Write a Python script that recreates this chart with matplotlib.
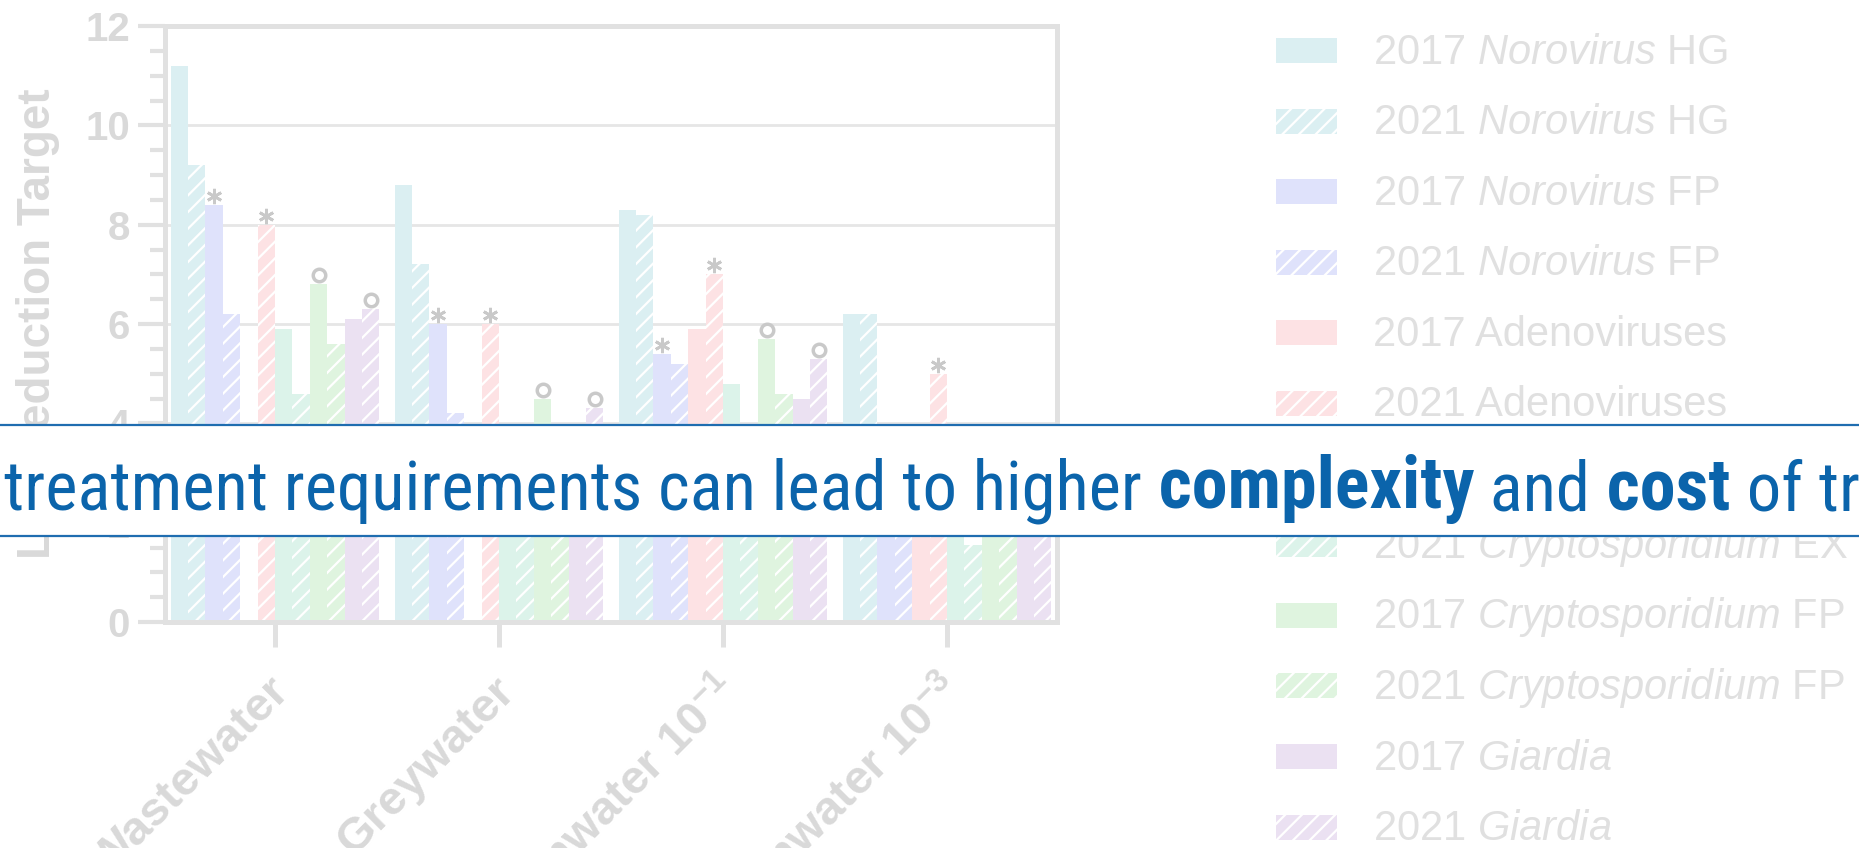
import matplotlib
matplotlib.use("Agg")
import numpy as np
import matplotlib.pyplot as plt
from matplotlib import font_manager as fm
from matplotlib.patches import Rectangle
from matplotlib.transforms import ScaledTranslation

# ---- data (values hidden under the banner are estimates)
categories = ["Wastewater", "Greywater",
              r"Stormwater 10$^{\mathbf{-1}}$", r"Stormwater 10$^{\mathbf{-3}}$"]

hg_2017 = [11.2, 8.8, 8.3, 6.2]
hg_2021 = [9.2, 7.2, 8.2, 6.2]
fp_2017 = [8.4, 6.0, 5.4, 3.5]
fp_2021 = [6.2, 4.2, 5.2, 3.0]
adeno_2017 = [np.nan, np.nan, 5.9, 3.8]
adeno_2021 = [8.0, 6.0, 7.0, 5.0]
cex_2017 = [5.9, 3.2, 4.8, 2.8]
cex_2021 = [4.6, 2.9, 3.4, 1.55]
cfp_2017 = [6.8, 4.5, 5.7, 3.5]
cfp_2021 = [5.6, 3.4, 4.6, 2.6]
giardia_2017 = [6.1, 3.8, 4.5, 2.6]
giardia_2021 = [6.3, 4.3, 5.3, 3.3]

series = [hg_2017, hg_2021, fp_2017, fp_2021, adeno_2017, adeno_2021,
          cex_2017, cex_2021, cfp_2017, cfp_2021, giardia_2017, giardia_2021]
series_labels = [
    r"2017 $\mathit{Norovirus}$ HG", r"2021 $\mathit{Norovirus}$ HG",
    r"2017 $\mathit{Norovirus}$ FP", r"2021 $\mathit{Norovirus}$ FP",
    "2017 Adenoviruses", "2021 Adenoviruses",
    r"2017 $\mathit{Cryptosporidium}$ EX", r"2021 $\mathit{Cryptosporidium}$ EX",
    r"2017 $\mathit{Cryptosporidium}$ FP", r"2021 $\mathit{Cryptosporidium}$ FP",
    r"2017 $\mathit{Giardia}$", r"2021 $\mathit{Giardia}$",
]
star_series = [2, 5]      # marked with *
circle_series = [8, 11]   # marked with o

pair_colors = ["#dbeff2", "#dfe2fb", "#fde2e4", "#dcf3ea", "#dff4df", "#ebe1f2"]

banner_parts = [("treatment requirements can lead to higher", "normal"),
                (" complexity", "bold"), (" and", "normal"),
                (" cost", "bold"), (" of treatment", "normal")]

# ---- style
W, H = 1859, 848
tick_grey = "#d9d9d9"
spine_grey = "#e1e1e1"
mark_grey = "#c9c9c9"
blue = "#0b64ab"

plt.rcParams["font.family"] = ["Liberation Sans", "DejaVu Sans"]
plt.rcParams["mathtext.fontset"] = "custom"
plt.rcParams["mathtext.it"] = "Liberation Sans:italic"
plt.rcParams["mathtext.rm"] = "Liberation Sans"
plt.rcParams["mathtext.bf"] = "Liberation Sans:bold"
plt.rcParams["hatch.linewidth"] = 1.6
plt.rcParams["hatch.color"] = "white"


def pick_narrow():
    prefs = ["Liberation Sans Narrow", "Roboto Condensed", "Noto Sans",
             "Open Sans", "DejaVu Sans", "Arimo"]
    found = {}
    for f in fm.fontManager.ttflist:
        narrow = f.stretch not in ("normal", 500) or "Narrow" in f.name or "Condensed" in f.name
        if not narrow or f.style != "normal":
            continue
        w = f.weight if isinstance(f.weight, int) else fm.weight_dict.get(f.weight, 400)
        slot = "reg" if w <= 500 else ("bold" if w >= 600 else None)
        if slot:
            found.setdefault(f.name, {}).setdefault(slot, f.fname)
    for p in prefs + list(found):
        if p in found and "reg" in found[p] and "bold" in found[p]:
            return (fm.FontProperties(fname=found[p]["reg"]),
                    fm.FontProperties(fname=found[p]["bold"]))
    return (fm.FontProperties(family="Liberation Sans"),
            fm.FontProperties(family="Liberation Sans", weight="bold"))


fig = plt.figure(figsize=(W / 100, H / 100), dpi=100)
ax = fig.add_axes([165 / W, 1 - 622 / H, (1057 - 165) / W, (622 - 26) / H])

x = np.arange(len(categories))
bw = 0.0777
hatches = ["", "//"]
containers = []
for i, vals in enumerate(series):
    c = ax.bar(x + (i - 5.5) * bw, vals, bw, color=pair_colors[i // 2],
               hatch=hatches[i % 2], edgecolor="white", linewidth=0, zorder=2)
    containers.append(c)

up = ScaledTranslation(0, 9 / 100, fig.dpi_scale_trans)
for i in star_series:
    ax.plot(x + (i - 5.5) * bw, series[i], ls="none", marker=(6, 2, 0), ms=11,
            mew=2, color=mark_grey, transform=ax.transData + up, zorder=3, clip_on=False)
for i in circle_series:
    ax.plot(x + (i - 5.5) * bw, series[i], ls="none", marker="o", ms=9,
            mew=2.5, mfc="white", mec=mark_grey, transform=ax.transData + up,
            zorder=3, clip_on=False)

ax.set_xlim(-0.491, 3.491)
ax.set_ylim(0, 12)
ax.set_yticks(np.arange(0, 13, 2))
ax.set_yticks(np.arange(0, 12.01, 0.5), minor=True)
ax.yaxis.grid(True, color="#e6e6e6", lw=2)
ax.set_axisbelow(True)
for s in ax.spines.values():
    s.set_color(spine_grey)
    s.set_linewidth(3.6)

ax.tick_params(axis="y", which="major", length=19.4, width=3, color=spine_grey,
               pad=5.8, labelsize=29, labelcolor=tick_grey)
ax.tick_params(axis="y", which="minor", length=10.8, width=3, color=spine_grey)
for lab in ax.get_yticklabels():
    lab.set_fontweight("bold")

ax.set_xticks(x)
ax.set_xticklabels(categories, rotation=45, ha="right", va="top",
                   rotation_mode="anchor", fontsize=34, fontweight="bold", color=tick_grey)
ax.tick_params(axis="x", length=18, width=3.6, color=spine_grey, pad=16)
left = ScaledTranslation(-7 / 100, 0, fig.dpi_scale_trans)
for lab in ax.get_xticklabels():
    lab.set_transform(lab.get_transform() + left)

ax.text(-0.142, 0.5, "Log Reduction Target", transform=ax.transAxes, rotation=90,
        ha="center", va="center", fontsize=33, fontweight="bold", color=tick_grey)

# legend, one row per series
row0, pitch = 50.5, 70.6
for k, (lab, c) in enumerate(zip(series_labels, containers)):
    yc = row0 + k * pitch
    fig.add_artist(Rectangle((1276 / W, 1 - (yc + 12.5) / H), 61 / W, 25 / H,
                             transform=fig.transFigure, facecolor=pair_colors[k // 2],
                             hatch=hatches[k % 2], edgecolor="white", lw=0, zorder=1))
    fig.text(1373 / W, 1 - (yc + 13) / H, lab, fontsize=30, color="#e0e0e0",
             va="baseline", ha="left")

# banner across the middle
bax = fig.add_axes([0, 1 - 536 / H, 1, (536 - 425) / H], zorder=10)
bax.set_xlim(0, 1)
bax.set_ylim(0, 1)
bax.axis("off")
bax.add_patch(Rectangle((0, 0), 1, 1, transform=bax.transAxes, facecolor="white",
                        edgecolor="none"))
bax.axhline(0, color="#1f6db0", lw=1.6, clip_on=False)
bax.axhline(1, color="#1f6db0", lw=1.6, clip_on=False)

fp_reg, fp_bold = pick_narrow()
base_y = (536 - 510) / (536 - 425)
texts = []
prev = None
for s, wt in banner_parts:
    prop = fp_bold if wt == "bold" else fp_reg
    if prev is None:
        t = bax.text(4 / W, base_y, s, fontproperties=prop, fontsize=50, color=blue,
                     va="baseline", ha="left")
    else:
        t = bax.annotate(s, xy=(1, 0), xycoords=prev, va="bottom", ha="left",
                         fontproperties=prop, fontsize=50, color=blue,
                         annotation_clip=False)
    texts.append((t, wt))
    prev = t

fig.canvas.draw()
r = fig.canvas.get_renderer()
w0 = texts[0][0].get_window_extent(r).width
scale = (1141 - 4) / w0
for t, wt in texts:
    t.set_fontsize(50 * scale * (1.05 if wt == "bold" else 1.0))

fig.savefig("out.png", dpi=100)
